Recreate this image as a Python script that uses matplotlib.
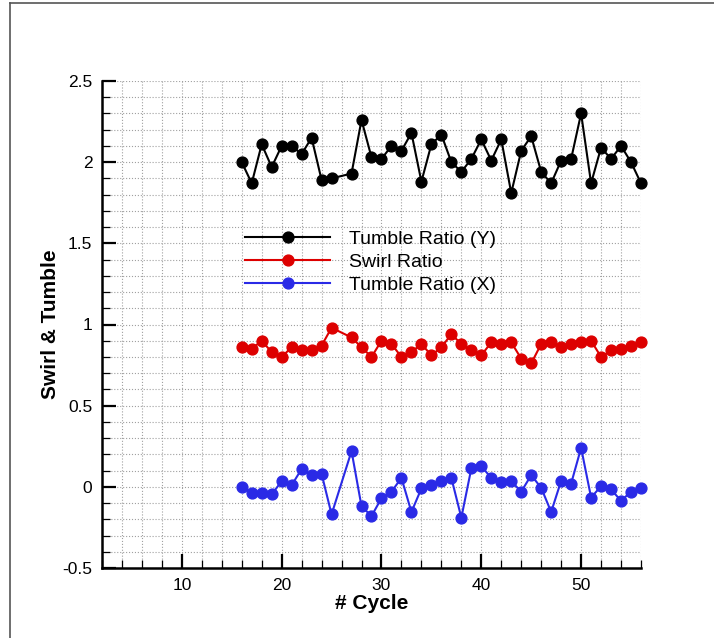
import matplotlib
matplotlib.use("Agg")
import matplotlib.pyplot as plt
from matplotlib.lines import Line2D
from matplotlib.ticker import MultipleLocator, FormatStrFormatter

plt.rcParams['font.family'] = ['Liberation Sans', 'DejaVu Sans']
plt.rcParams['axes.unicode_minus'] = False

# cycle 26 is absent in the source data
cycles = [16, 17, 18, 19, 20, 21, 22, 23, 24, 25,
          27, 28, 29, 30, 31, 32, 33, 34, 35, 36,
          37, 38, 39, 40, 41, 42, 43, 44, 45, 46,
          47, 48, 49, 50, 51, 52, 53, 54, 55, 56]
tumble_y = [2.00, 1.87, 2.11, 1.97, 2.10, 2.10, 2.05, 2.15, 1.89, 1.90,
            1.93, 2.26, 2.03, 2.02, 2.10, 2.07, 2.18, 1.88, 2.11, 2.17,
            2.00, 1.94, 2.02, 2.14, 2.01, 2.14, 1.81, 2.07, 2.16, 1.94,
            1.87, 2.01, 2.02, 2.30, 1.87, 2.09, 2.02, 2.10, 2.00, 1.87]
swirl = [0.86, 0.85, 0.90, 0.83, 0.80, 0.86, 0.84, 0.84, 0.87, 0.98,
         0.92, 0.86, 0.80, 0.90, 0.88, 0.80, 0.83, 0.88, 0.81, 0.86,
         0.94, 0.88, 0.84, 0.81, 0.89, 0.88, 0.89, 0.79, 0.76, 0.88,
         0.89, 0.86, 0.88, 0.89, 0.90, 0.80, 0.84, 0.85, 0.87, 0.89]
tumble_x = [0.00, -0.035, -0.04, -0.047, 0.035, 0.01, 0.11, 0.07, 0.08, -0.17,
            0.22, -0.12, -0.18, -0.07, -0.03, 0.055, -0.155, -0.01, 0.01, 0.037,
            0.055, -0.19, 0.113, 0.127, 0.055, 0.03, 0.035, -0.03, 0.072, -0.006,
            -0.155, 0.037, 0.02, 0.24, -0.066, 0.004, -0.016, -0.086, -0.03, -0.01]

series = [("Tumble Ratio (Y)", tumble_y, "#000000"),
          ("Swirl Ratio", swirl, "#dd0000"),
          ("Tumble Ratio (X)", tumble_x, "#2a2ae6")]


def main():
    fig = plt.figure(figsize=(7.14, 6.38), dpi=100)
    ax = fig.add_axes([102 / 714, 1 - 568 / 638, 539 / 714, 487 / 638])

    for label, vals, color in series:
        ax.plot(cycles, vals, '-o', color=color, lw=1.5, ms=7.8,
                label=label, clip_on=False, zorder=3)

    ax.set_xlim(2, 56)
    ax.set_ylim(-0.5, 2.5)
    ax.xaxis.set_major_locator(MultipleLocator(10))
    ax.xaxis.set_minor_locator(MultipleLocator(2))
    ax.yaxis.set_major_locator(MultipleLocator(0.5))
    ax.yaxis.set_minor_locator(MultipleLocator(0.1))
    ax.yaxis.set_major_formatter(FormatStrFormatter('%g'))

    ax.grid(which='both', color='#a0a0a0', linestyle=':', linewidth=0.8)
    ax.set_axisbelow(True)

    ax.tick_params(which='major', direction='in', length=10, width=1.6,
                   labelsize=12.5, pad=7)
    ax.tick_params(which='minor', direction='in', length=6, width=0.9)
    for spine in ("top", "right"):
        ax.spines[spine].set_visible(False)
    for spine in ("left", "bottom"):
        ax.spines[spine].set_linewidth(1.8)

    ax.set_xlabel("# Cycle", fontsize=15, fontweight='bold', labelpad=1)
    ax.set_ylabel("Swirl & Tumble", fontsize=15, fontweight='bold')
    ax.yaxis.set_label_coords(-0.077, 0.5)

    ax.legend(loc='upper left', bbox_to_anchor=(0.265, 0.693), frameon=False,
              fontsize=14, handlelength=4.4, handletextpad=0.95,
              labelspacing=0.28, borderpad=0, borderaxespad=0)

    # thin frame around the picture (left and top edges)
    fig.add_artist(Line2D([10 / 714, 10 / 714], [0, 1 - 3 / 638],
                          transform=fig.transFigure, color='#555555', lw=1.2))
    fig.add_artist(Line2D([10 / 714, 1], [1 - 3 / 638, 1 - 3 / 638],
                          transform=fig.transFigure, color='#555555', lw=1.2))

    fig.savefig("out.png", dpi=100)


if __name__ == "__main__":
    main()
